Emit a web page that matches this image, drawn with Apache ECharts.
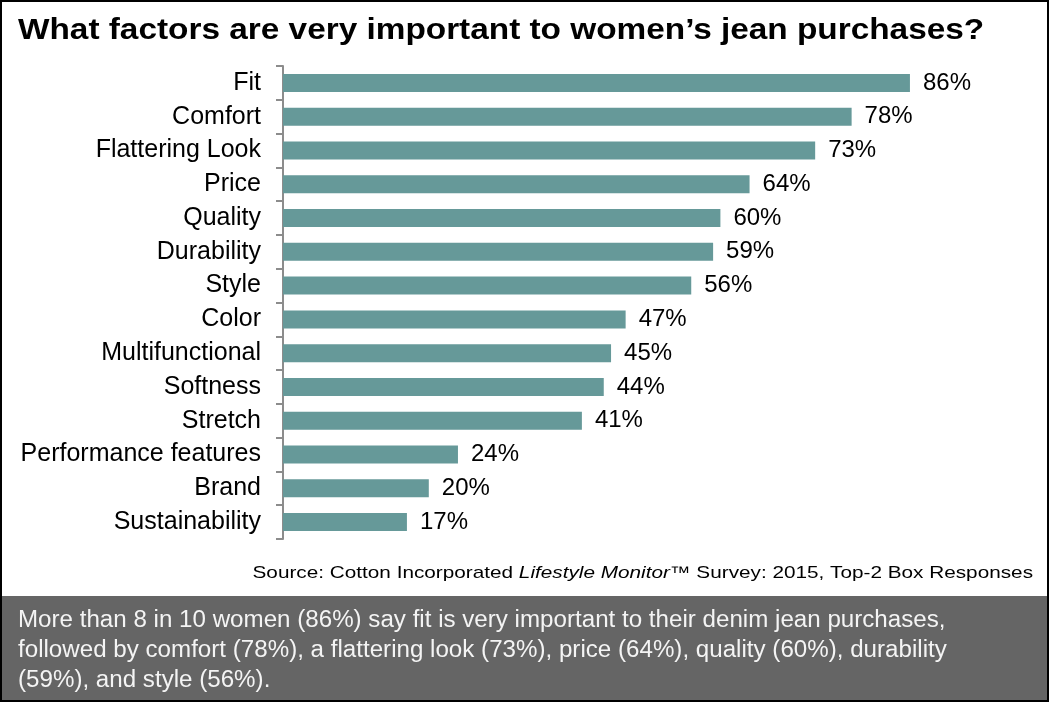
<!DOCTYPE html>
<html>
<head>
<meta charset="utf-8">
<script src="https://cdn.jsdelivr.net/npm/echarts@6/dist/echarts.min.js"></script>
<style>
  html, body { margin: 0; padding: 0; background: #fff; }
  #chart { width: 1050px; height: 703px; }
</style>
</head>
<body>
<div id="chart"></div>
<script>
// categories top to bottom
const factors = ['Fit', 'Comfort', 'Flattering Look', 'Price', 'Quality', 'Durability', 'Style',
  'Color', 'Multifunctional', 'Softness', 'Stretch', 'Performance features', 'Brand', 'Sustainability'];
const shares = [86, 78, 73, 64, 60, 59, 56, 47, 45, 44, 41, 24, 20, 17];

const titleText = 'What factors are very important to women\u2019s jean purchases?';
const sourceText = 'Source: Cotton Incorporated {i|Lifestyle Monitor}\u2122 Survey: 2015, Top-2 Box Responses';
const noteLines = [
  'More than 8 in 10 women (86%) say fit is very important to their denim jean purchases,',
  'followed by comfort (78%), a flattering look (73%), price (64%), quality (60%), durability',
  '(59%), and style (56%).'
];

const font = 'Arial, "Liberation Sans", sans-serif';
let chart = echarts.init(document.getElementById('chart'));

chart.setOption({
  animation: false,
  grid: { left: 283, top: 66, width: 729, height: 473, containLabel: false },
  xAxis: {
    type: 'value', min: 0, max: 100, show: false
  },
  yAxis: {
    type: 'category',
    data: factors,
    inverse: true,
    axisLine: { lineStyle: { color: '#8c8c8c', width: 2 } },
    axisTick: { show: true, length: 7, lineStyle: { color: '#8c8c8c', width: 2 } },
    axisLabel: { fontFamily: font, fontSize: 25, color: '#000', margin: 22 },
    splitLine: { show: false }
  },
  series: [{
    type: 'bar',
    data: shares,
    barWidth: 18,
    itemStyle: { color: '#669999' },
    label: {
      show: true, position: 'right', distance: 13,
      formatter: p => p.value + '%',
      fontFamily: font, fontSize: 24, color: '#000'
    }
  }],
  graphic: [{
    // chart title, stretched sideways like the original slide
    type: 'text',
    x: 18, y: 16, scaleX: 1.15,
    style: {
      text: titleText, fontFamily: font, fontSize: 29, fontWeight: 'bold',
      fill: '#000', verticalAlign: 'top'
    }
  }, {
    type: 'text',
    x: 1033, y: 573, scaleX: 1.22,
    style: {
      text: sourceText, fontFamily: font, fontSize: 17, fill: '#000',
      align: 'right', verticalAlign: 'middle',
      rich: { i: { fontFamily: font, fontSize: 17, fontStyle: 'italic', fill: '#000' } }
    }
  }, {
    type: 'rect',
    shape: { x: 1, y: 1, width: 1047, height: 700 },
    style: { fill: null, stroke: '#000', lineWidth: 2 },
    z: 10
  }, {
    type: 'rect',
    shape: { x: 2, y: 596, width: 1045, height: 104 },
    style: { fill: '#656565' },
    z: 5
  }, {
    type: 'text',
    x: 18, y: 606, scaleX: 1.05,
    style: {
      text: noteLines.join('\n'),
      fontFamily: font, fontSize: 23, lineHeight: 30, fill: '#f4f4f4',
      verticalAlign: 'top'
    },
    z: 6
  }]
});
</script>
</body>
</html>
